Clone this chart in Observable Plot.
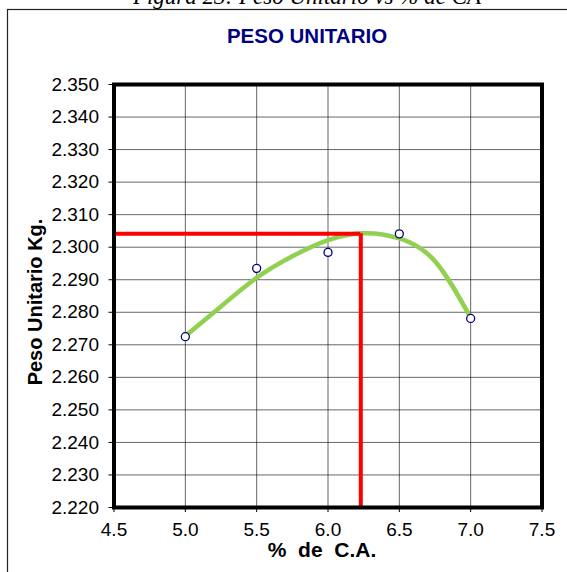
<!DOCTYPE html>
<html><head><meta charset="utf-8">
<script src="https://cdn.jsdelivr.net/npm/d3@7"></script>
<script src="https://cdn.jsdelivr.net/npm/@observablehq/plot@0.6"></script>
<style>body{margin:0;background:#fff;}</style>
</head><body><div id="chart"></div>
<script>
// Ensayo: % de cemento asfáltico vs peso unitario
const pctCA = [5.0, 5.5, 6.0, 6.5, 7.0];
const pesoUnitario = [2.2725, 2.2935, 2.2984, 2.3041, 2.2781];

// Curva de ajuste
const curvaCA = [5.0, 5.25, 5.5, 5.75, 6.0, 6.25, 6.5, 6.75, 7.0];
const curvaPeso = [2.2727, 2.2818, 2.2906, 2.2972, 2.3022, 2.3043, 2.3027, 2.2957, 2.2783];

// Óptimo
const optCA = 6.23;
const optPeso = 2.3041;

// Ejes
const xTicks = [4.5, 5.0, 5.5, 6.0, 6.5, 7.0, 7.5];
const xTickLabels = ["4.5", "5.0", "5.5", "6.0", "6.5", "7.0", "7.5"];
const yTicks = [2.22, 2.23, 2.24, 2.25, 2.26, 2.27, 2.28, 2.29, 2.30, 2.31, 2.32, 2.33, 2.34, 2.35];
const yTickLabels = ["2.220", "2.230", "2.240", "2.250", "2.260", "2.270", "2.280", "2.290", "2.300", "2.310", "2.320", "2.330", "2.340", "2.350"];

const caption = "Figura 23: Peso Unitario vs % de CA";
const title = "PESO UNITARIO";
const xTitle = "%  de  C.A.";
const yTitle = "Peso Unitario Kg.";

const puntos = pctCA.map((x, i) => ({x, y: pesoUnitario[i]}));
const curva = curvaCA.map((x, i) => ({x, y: curvaPeso[i]}));

const font = "Arial, 'Liberation Sans', sans-serif";

const chart = Plot.plot({
  width: 567, height: 572,
  marginLeft: 113.5, marginRight: 25.5, marginTop: 84, marginBottom: 65,
  style: {fontFamily: font, fontSize: "19px", color: "#000", background: "#fff"},
  x: {domain: [xTicks[0], xTicks[xTicks.length - 1]]},
  y: {domain: [yTicks[0], yTicks[yTicks.length - 1]]},
  marks: [
    Plot.gridX(xTicks, {stroke: "#000", strokeOpacity: 0.6, strokeWidth: 1}),
    Plot.gridY(yTicks, {stroke: "#000", strokeOpacity: 0.6, strokeWidth: 1}),
    Plot.line(curva, {x: "x", y: "y", curve: "natural", stroke: "#92d050", strokeWidth: 4.5}),
    Plot.ruleY([optPeso], {x1: xTicks[0], x2: optCA, stroke: "#ff0000", strokeWidth: 4}),
    Plot.ruleX([optCA], {y1: yTicks[0], y2: optPeso, stroke: "#ff0000", strokeWidth: 4}),
    Plot.dot(puntos, {x: "x", y: "y", r: 4, stroke: "#000080", fill: "white", strokeWidth: 1.3}),
    Plot.frame({stroke: "#000", strokeWidth: 4}),
    Plot.axisX(xTicks, {tickFormat: d => xTickLabels[xTicks.indexOf(d)], tickSize: 5, tickPadding: 10, label: null, fontSize: 19}),
    Plot.axisY(yTicks, {tickFormat: d => yTickLabels[yTicks.indexOf(d)], tickSize: 5, tickPadding: 10, label: null, fontSize: 19})
  ]
});

const svg = d3.select(chart);
svg.insert("rect", ":first-child")
  .attr("x", 7.5).attr("y", 9.5).attr("width", 700).attr("height", 700)
  .attr("fill", "none").attr("stroke", "#222").attr("stroke-width", 1.2);
svg.append("text").text(caption)
  .attr("x", 307).attr("y", 3.5).attr("text-anchor", "middle")
  .attr("font-family", "'Liberation Serif', 'Times New Roman', serif")
  .attr("font-style", "italic").attr("font-size", 23).attr("fill", "#000");
svg.append("text").text(title)
  .attr("x", 307).attr("y", 42.5).attr("text-anchor", "middle")
  .attr("font-family", font).attr("font-weight", "bold").attr("font-size", 20.5).attr("fill", "#000080");
svg.append("text").text(xTitle)
  .attr("x", 322).attr("y", 557).attr("text-anchor", "middle").style("white-space", "pre")
  .attr("font-family", font).attr("font-weight", "bold").attr("font-size", 21).attr("fill", "#000");
svg.append("text").text(yTitle)
  .attr("transform", "translate(42,302) rotate(-90)").attr("text-anchor", "middle")
  .attr("font-family", font).attr("font-weight", "bold").attr("font-size", 20).attr("fill", "#000");

document.getElementById("chart").appendChild(chart);
</script>
</body></html>
